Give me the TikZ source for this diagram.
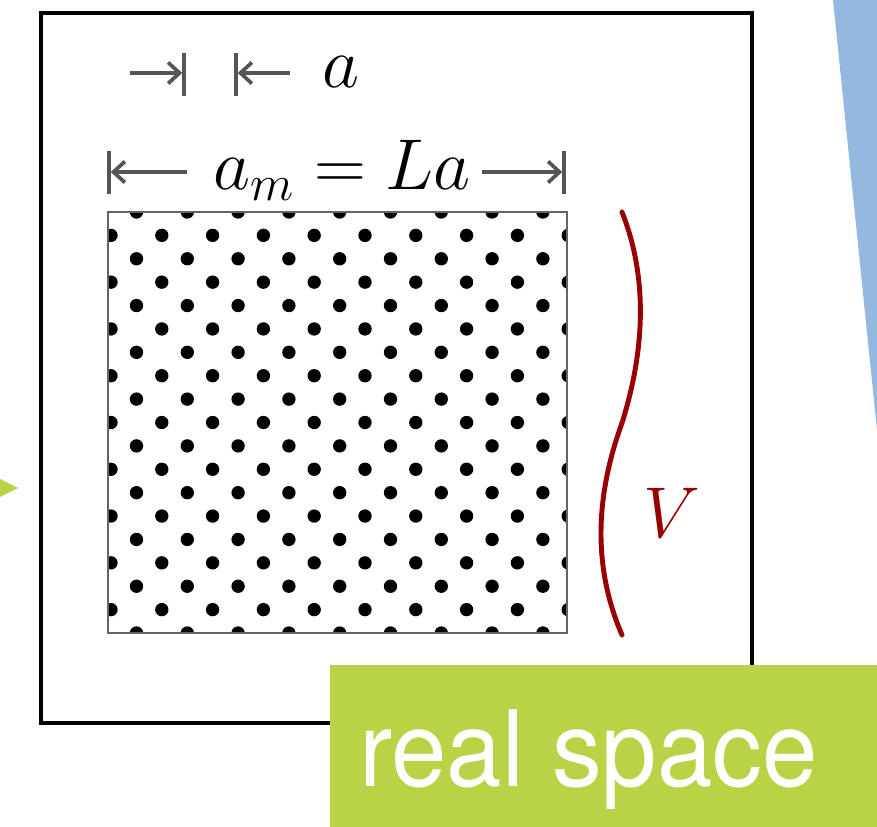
\RequirePackage{fix-cm}
\documentclass[tikz,border=0pt]{standalone}
\usepackage{fontspec}
\newfontfamily\boxfont[FakeStretch=0.945]{TeX Gyre Heros}
\usetikzlibrary{arrows.meta}
\definecolor{limegreen}{HTML}{B9D346}
\definecolor{skyblue}{HTML}{94B8DF}
\definecolor{darkred}{HTML}{990000}
\definecolor{dimgray}{HTML}{555555}
\definecolor{boxgray}{HTML}{646464}
\tikzset{
  dimline/.style={draw=dimgray, line width=2.1pt, -{Straight Barb[length=6.5pt,width=12pt]}},
  dimbar/.style={draw=dimgray, line width=2.1pt},
  mathlabel/.style={inner sep=0pt, anchor=base, font=\fontsize{41}{49}\selectfont},
}
\begin{document}
\begin{tikzpicture}[x=0.02cm, y=-0.02cm]
    \useasboundingbox (0,0) rectangle (877,827);
    % cut-off shapes at the sides
    \fill[skyblue] (833,0) -- (877,0) -- (877,430) -- cycle;
    \fill[limegreen] (0,479) -- (18,488) -- (0,497) -- cycle;
    % frame
    \draw[line width=2.6pt] (41,13) rectangle (752,723);
    % lattice of sites
    \begin{scope}
        \clip (108,212) rectangle (567,633);
        \foreach \j in {0,2,...,18}
            \foreach \i in {0,...,8}
                \fill (136.5+50.8*\i, 212+23.39*\j) circle (3.8pt);
        \foreach \j in {1,3,...,17}
            \foreach \i in {0,...,9}
                \fill (111+50.8*\i, 212+23.39*\j) circle (3.8pt);
    \end{scope}
    \draw[boxgray, line width=1.5pt] (108,212) rectangle (567,633);
    % lattice constant
    \coordinate (aleft) at (184,73);
    \coordinate (aright) at (236,73);
    \coordinate (atailL) at (130,73);
    \coordinate (atailR) at (290,73);
    \draw[dimbar] (184,53) -- (184,96);
    \draw[dimbar] (236,53) -- (236,96);
    \draw[dimline] (atailL) -- ([xshift=-1pt]aleft);
    \draw[dimline] (atailR) -- ([xshift=1pt]aright);
    \node[mathlabel] (alabel) at (341,88) {$a$};
    % system size
    \node[mathlabel] (amlabel) at (342,190) {$a_m = La$};
    \coordinate (mleft) at (109,172);
    \coordinate (mright) at (564,172);
    \coordinate (mtailL) at (187,172);
    \coordinate (mtailR) at (482,172);
    \draw[dimbar] (109,151) -- (109,194);
    \draw[dimbar] (564,151) -- (564,194);
    \draw[dimline] (mtailL) -- ([xshift=1pt]mleft);
    \draw[dimline] (mtailR) -- ([xshift=-1pt]mright);
    % volume
    \draw[darkred, line width=2.8pt, line cap=round] (622,212) .. controls (645,270) and (648,340) .. (622,423)
        .. controls (594,500) and (594,570) .. (622,635);
    \node[mathlabel, text=darkred] (vlabel) at (672,538) {$V$};
    % tag
    \fill[limegreen] (330,665) rectangle (877,827);
    \node[anchor=base west, inner sep=0pt, text=white, font=\boxfont\fontsize{60}{64}\selectfont] (tag) at (359,787) {real space};
\end{tikzpicture}
\end{document}
